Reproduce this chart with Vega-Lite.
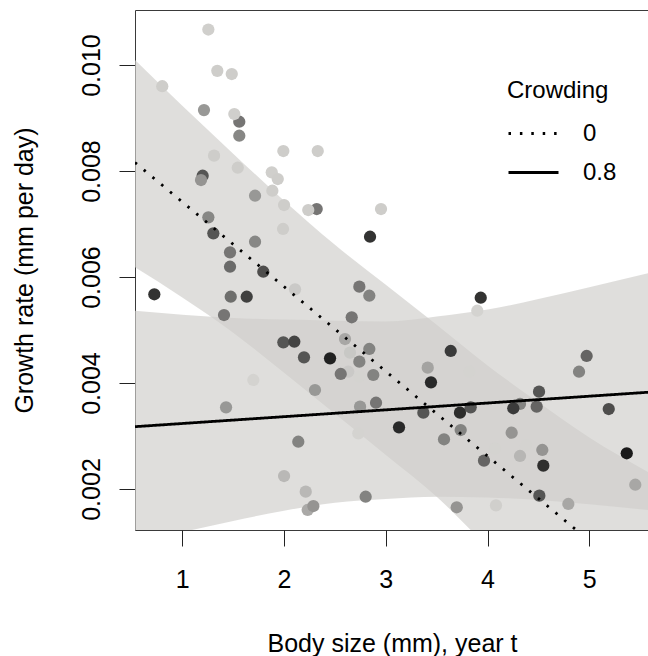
{
  "$schema": "https://vega.github.io/schema/vega-lite/v6.json",
  "width": 514,
  "height": 520,
  "autosize": {"type": "none"},
  "padding": {"left": 135, "top": 10, "right": -1, "bottom": 126},
  "background": "white",
  "config": {
    "font": "Liberation Sans",
    "view": {"stroke": "#3a3a3a", "strokeWidth": 1},
    "axis": {
      "grid": false,
      "domain": false,
      "tickSize": 16,
      "tickColor": "#222",
      "tickWidth": 1,
      "labelFont": "Liberation Sans",
      "labelFontSize": 25,
      "labelColor": "black",
      "titleFont": "Liberation Sans",
      "titleFontSize": 25,
      "titleFontWeight": "normal",
      "titleColor": "black"
    }
  },
  "datasets": {
    "bands": [
      {"band": "c0", "x": 0.535, "hi": 0.010094, "lo": 0.006183},
      {"band": "c0", "x": 1.0, "hi": 0.009229, "lo": 0.005613},
      {"band": "c0", "x": 1.5, "hi": 0.008328, "lo": 0.004949},
      {"band": "c0", "x": 2.0, "hi": 0.00744, "lo": 0.004194},
      {"band": "c0", "x": 2.5, "hi": 0.006607, "lo": 0.003418},
      {"band": "c0", "x": 3.0, "hi": 0.005853, "lo": 0.002643},
      {"band": "c0", "x": 3.5, "hi": 0.0051, "lo": 0.001855},
      {"band": "c0", "x": 4.0, "hi": 0.004331, "lo": 0.000911},
      {"band": "c0", "x": 4.5, "hi": 0.003636, "lo": 0.00001},
      {"band": "c0", "x": 5.0, "hi": 0.002974, "lo": -0.00089},
      {"band": "c0", "x": 5.59, "hi": 0.002309, "lo": -0.0022},
      {"band": "c8", "x": 0.535, "hi": 0.005364, "lo": 0.000988},
      {"band": "c8", "x": 1.0, "hi": 0.005289, "lo": 0.001186},
      {"band": "c8", "x": 1.5, "hi": 0.005226, "lo": 0.001397},
      {"band": "c8", "x": 2.0, "hi": 0.005196, "lo": 0.00159},
      {"band": "c8", "x": 2.5, "hi": 0.005175, "lo": 0.001742},
      {"band": "c8", "x": 3.0, "hi": 0.00516, "lo": 0.001812},
      {"band": "c8", "x": 3.5, "hi": 0.005255, "lo": 0.001855},
      {"band": "c8", "x": 4.0, "hi": 0.005385, "lo": 0.00184},
      {"band": "c8", "x": 4.5, "hi": 0.005586, "lo": 0.001793},
      {"band": "c8", "x": 5.0, "hi": 0.005807, "lo": 0.00171},
      {"band": "c8", "x": 5.59, "hi": 0.006077, "lo": 0.0016}
    ],
    "fits": [
      {"crowding": "0", "x": 0.535, "y": 0.00816},
      {"crowding": "0", "x": 5.59, "y": 0.0000786},
      {"crowding": "0.8", "x": 0.535, "y": 0.003176},
      {"crowding": "0.8", "x": 5.59, "y": 0.003827}
    ],
    "pts": [
      {"x": 1.256, "y": 0.01067, "crowd": 0.02},
      {"x": 1.344, "y": 0.00989, "crowd": 0.03},
      {"x": 1.486, "y": 0.00983, "crowd": 0.03},
      {"x": 0.803, "y": 0.0096, "crowd": 0.03},
      {"x": 1.213, "y": 0.00915, "crowd": 0.31},
      {"x": 1.56, "y": 0.00893, "crowd": 0.49},
      {"x": 1.511, "y": 0.009075, "crowd": 0.02},
      {"x": 1.56, "y": 0.008666, "crowd": 0.4},
      {"x": 1.993, "y": 0.008377, "crowd": 0.03},
      {"x": 2.331, "y": 0.008377, "crowd": 0.03},
      {"x": 1.312, "y": 0.008289, "crowd": 0.03},
      {"x": 1.545, "y": 0.008062, "crowd": 0.03},
      {"x": 1.879, "y": 0.007975, "crowd": 0.02},
      {"x": 1.938, "y": 0.007849, "crowd": 0.03},
      {"x": 1.2, "y": 0.007911, "crowd": 0.66},
      {"x": 1.184, "y": 0.00783, "crowd": 0.33},
      {"x": 1.885, "y": 0.007628, "crowd": 0.03},
      {"x": 1.715, "y": 0.007534, "crowd": 0.31},
      {"x": 2.0, "y": 0.007358, "crowd": 0.03},
      {"x": 2.321, "y": 0.007283, "crowd": 0.49},
      {"x": 2.238, "y": 0.007264, "crowd": 0.03},
      {"x": 2.953, "y": 0.007283, "crowd": 0.03},
      {"x": 1.256, "y": 0.007126, "crowd": 0.4},
      {"x": 1.305, "y": 0.006824, "crowd": 0.66},
      {"x": 1.99, "y": 0.006906, "crowd": 0.03},
      {"x": 1.715, "y": 0.006666, "crowd": 0.4},
      {"x": 1.469, "y": 0.006466, "crowd": 0.49},
      {"x": 2.845, "y": 0.00676, "crowd": 0.84},
      {"x": 1.469, "y": 0.006194, "crowd": 0.55},
      {"x": 1.796, "y": 0.0061, "crowd": 0.7},
      {"x": 2.108, "y": 0.005768, "crowd": 0.05},
      {"x": 0.725, "y": 0.005674, "crowd": 0.84},
      {"x": 1.476, "y": 0.005628, "crowd": 0.53},
      {"x": 1.633, "y": 0.005628, "crowd": 0.77},
      {"x": 2.74, "y": 0.005817, "crowd": 0.49},
      {"x": 2.838, "y": 0.005647, "crowd": 0.42},
      {"x": 1.41, "y": 0.005283, "crowd": 0.49},
      {"x": 2.665, "y": 0.00524, "crowd": 0.49},
      {"x": 2.599, "y": 0.00483, "crowd": 0.23},
      {"x": 2.648, "y": 0.004572, "crowd": 0.06},
      {"x": 2.838, "y": 0.004642, "crowd": 0.42},
      {"x": 1.993, "y": 0.004768, "crowd": 0.66},
      {"x": 2.101, "y": 0.004779, "crowd": 0.75},
      {"x": 2.196, "y": 0.004485, "crowd": 0.66},
      {"x": 2.452, "y": 0.004466, "crowd": 0.93},
      {"x": 2.74, "y": 0.004402, "crowd": 0.42},
      {"x": 2.631, "y": 0.004213, "crowd": 0.05},
      {"x": 2.557, "y": 0.00417, "crowd": 0.49},
      {"x": 2.74, "y": 0.004119, "crowd": 0.0},
      {"x": 2.877, "y": 0.004151, "crowd": 0.42},
      {"x": 1.698, "y": 0.004057, "crowd": 0.0},
      {"x": 2.304, "y": 0.003868, "crowd": 0.31},
      {"x": 1.43, "y": 0.003541, "crowd": 0.31},
      {"x": 2.747, "y": 0.003553, "crowd": 0.31},
      {"x": 2.904, "y": 0.003628, "crowd": 0.49},
      {"x": 2.73, "y": 0.003051, "crowd": 0.0},
      {"x": 2.14, "y": 0.002892, "crowd": 0.42},
      {"x": 2.0, "y": 0.002245, "crowd": 0.14},
      {"x": 2.213, "y": 0.001949, "crowd": 0.14},
      {"x": 2.232, "y": 0.001604, "crowd": 0.22},
      {"x": 2.288, "y": 0.001679, "crowd": 0.33},
      {"x": 2.802, "y": 0.001854, "crowd": 0.42},
      {"x": 3.899, "y": 0.005364, "crowd": 0.0},
      {"x": 3.933, "y": 0.005609, "crowd": 0.84},
      {"x": 3.638, "y": 0.004604, "crowd": 0.8},
      {"x": 4.974, "y": 0.00451, "crowd": 0.58},
      {"x": 4.899, "y": 0.004213, "crowd": 0.42},
      {"x": 3.412, "y": 0.004289, "crowd": 0.25},
      {"x": 3.821, "y": 0.004213, "crowd": 0.0},
      {"x": 3.444, "y": 0.004013, "crowd": 0.89},
      {"x": 4.506, "y": 0.003836, "crowd": 0.66},
      {"x": 3.369, "y": 0.00344, "crowd": 0.66},
      {"x": 3.834, "y": 0.003541, "crowd": 0.66},
      {"x": 3.729, "y": 0.00344, "crowd": 0.87},
      {"x": 4.319, "y": 0.003604, "crowd": 0.42},
      {"x": 4.253, "y": 0.003523, "crowd": 0.8},
      {"x": 4.483, "y": 0.003553, "crowd": 0.58},
      {"x": 5.191, "y": 0.003509, "crowd": 0.7},
      {"x": 3.13, "y": 0.003164, "crowd": 0.89},
      {"x": 3.736, "y": 0.003113, "crowd": 0.42},
      {"x": 3.572, "y": 0.002938, "crowd": 0.42},
      {"x": 4.237, "y": 0.003062, "crowd": 0.33},
      {"x": 4.073, "y": 0.002768, "crowd": 0.0},
      {"x": 4.378, "y": 0.00283, "crowd": 0.0},
      {"x": 4.319, "y": 0.002623, "crowd": 0.15},
      {"x": 4.538, "y": 0.002736, "crowd": 0.33},
      {"x": 3.965, "y": 0.002534, "crowd": 0.58},
      {"x": 4.548, "y": 0.00244, "crowd": 0.86},
      {"x": 5.368, "y": 0.002674, "crowd": 0.97},
      {"x": 5.452, "y": 0.002081, "crowd": 0.23},
      {"x": 4.509, "y": 0.001874, "crowd": 0.66},
      {"x": 4.794, "y": 0.001717, "crowd": 0.23},
      {"x": 4.083, "y": 0.001692, "crowd": 0.02},
      {"x": 3.697, "y": 0.001655, "crowd": 0.33}
    ]
  },
  "layer": [
    {
      "data": {"name": "bands"},
      "mark": {"type": "area", "clip": true, "fill": "#d0cfcb", "opacity": 0.68, "interpolate": "monotone"},
      "encoding": {
        "x": {
          "field": "x", "type": "quantitative",
          "scale": {"domain": [0.5351, 5.5867], "nice": false, "zero": false},
          "axis": {"values": [1, 2, 3, 4, 5], "format": "d", "title": "Body size (mm), year t", "labelBaseline": "alphabetic", "labelPadding": 41, "titleBaseline": "alphabetic", "titleY": 121}
        },
        "y": {
          "field": "hi", "type": "quantitative", "stack": null,
          "scale": {"domain": [0.0012264, 0.011038], "nice": false, "zero": false},
          "axis": {"values": [0.002, 0.004, 0.006, 0.008, 0.01], "format": ".3f", "title": "Growth rate (mm per day)", "labelAngle": 270, "labelAlign": "center", "labelBaseline": "alphabetic", "labelPadding": 20, "titleAngle": 270, "titleAlign": "center", "titleBaseline": "alphabetic", "titleX": -103, "titleY": 260}
        },
        "y2": {"field": "lo"},
        "detail": {"field": "band", "type": "nominal"}
      }
    },
    {
      "data": {"name": "pts"},
      "mark": {"type": "circle", "size": 150, "opacity": 1},
      "encoding": {
        "x": {"field": "x", "type": "quantitative"},
        "y": {"field": "y", "type": "quantitative"},
        "color": {
          "field": "crowd", "type": "quantitative",
          "scale": {"domain": [0, 1], "range": ["#d4d3d0", "#141414"], "interpolate": "rgb"},
          "legend": null
        }
      }
    },
    {
      "data": {"name": "fits"},
      "mark": {"type": "line", "clip": true, "color": "black", "strokeWidth": 2.8},
      "encoding": {
        "x": {"field": "x", "type": "quantitative"},
        "y": {"field": "y", "type": "quantitative"},
        "strokeDash": {
          "field": "crowding", "type": "nominal",
          "scale": {"domain": ["0", "0.8"], "range": [[2.5, 8.9], [1, 0]]},
          "legend": {
            "title": "Crowding", "orient": "none", "legendX": 372, "legendY": 69,
            "titleFontSize": 24, "titleFontWeight": "normal", "titleColor": "black", "titlePadding": 4,
            "labelFontSize": 24, "labelColor": "black", "labelOffset": 23,
            "symbolType": "stroke", "symbolSize": 2500, "symbolStrokeWidth": 3, "symbolStrokeColor": "black",
            "rowPadding": -2, "padding": 0
          }
        }
      }
    }
  ]
}
